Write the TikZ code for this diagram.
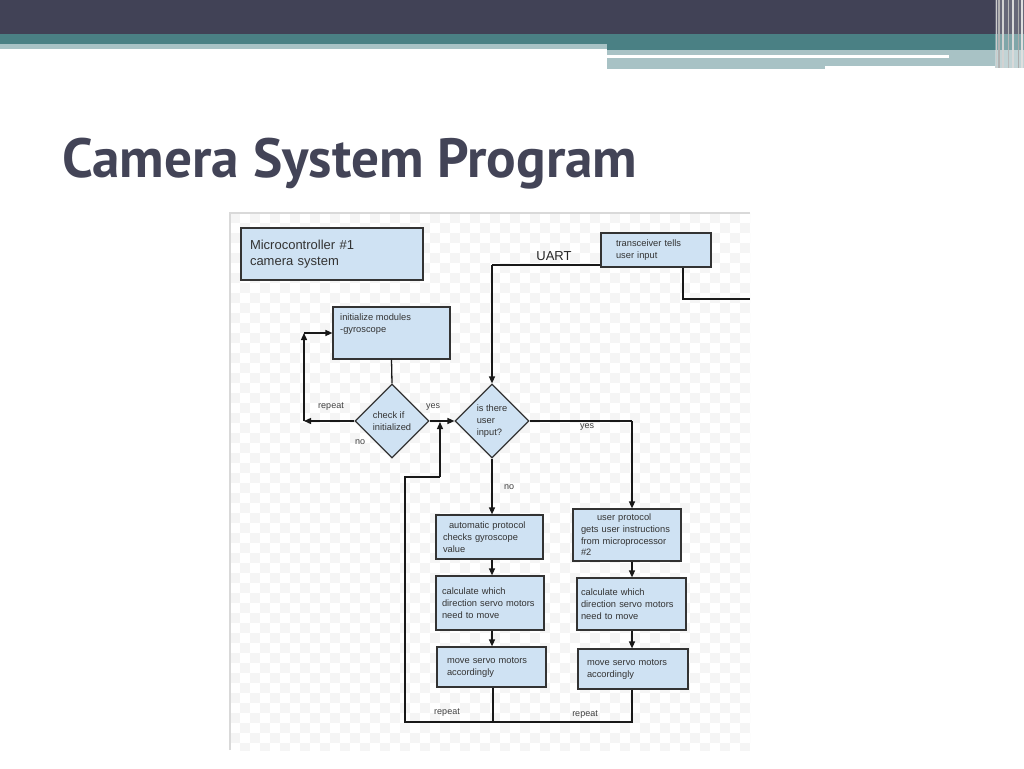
\documentclass[tikz,border=0pt]{standalone}
\usepackage{fontspec}
\setmainfont{Liberation Sans}
\newfontfamily\titlefont{PT Sans}
\usetikzlibrary{shapes.geometric,arrows.meta}
\definecolor{darkband}{HTML}{414256}
\definecolor{tealband}{HTML}{4A8084}
\definecolor{lightband}{HTML}{A8C2C5}
\definecolor{titlecol}{HTML}{434457}
\definecolor{boxfill}{HTML}{CFE2F3}
\definecolor{boxline}{HTML}{333333}
\definecolor{checker}{HTML}{F5F5F5}
\begin{document}
\begin{tikzpicture}[x=1pt,y=-1pt,
  box/.style={draw=boxline,fill=boxfill,line width=1.2pt,align=left,inner ysep=0pt,
    font=\fontsize{9.3}{12}\selectfont,text=black!80},
  dia/.style={diamond,aspect=1,draw=boxline,fill=boxfill,line width=1.2pt,inner sep=0pt,
    minimum width=74pt,minimum height=74pt,align=left,font=\fontsize{9.3}{12}\selectfont,text=black!80},
  lbl/.style={font=\fontsize{9}{11}\selectfont,text=black!75,inner sep=0pt},
  conn/.style={draw=black!90,line width=1.3pt},
  arr/.style={conn,-{Triangle[length=7pt,width=6pt]}}]
\useasboundingbox (0,0) rectangle (1024,768);
\fill[white] (0,0) rectangle (1024,768);
% banner
\fill[darkband] (0,0) rectangle (1024,34);
\fill[tealband] (0,34) rectangle (607,44);
\fill[tealband] (607,34) rectangle (1000,50);
\fill[lightband] (0,44) rectangle (607,49);
\fill[lightband] (607,50) rectangle (1000,55);
\fill[white] (607,55) rectangle (949,58);
\fill[lightband] (949,55) rectangle (1000,58);
\fill[lightband] (607,58) rectangle (825,69);
\fill[lightband] (825,58) rectangle (1000,66);
\fill[darkband!80!white] (995,0) rectangle (1024,34);
\fill[tealband!70!white] (995,34) rectangle (1024,50);
\fill[lightband!70!white] (995,50) rectangle (1024,68);
\foreach \xx/\ww/\cc in {996/1/40,999/1.5/60,1003/2/35,1008/1/55,1013/2/30,1018/1/65,1022/1.5/25}
  \draw[line width=\ww pt,gray!\cc] (\xx,0) -- (\xx,68);
% title
\node[anchor=base west,inner sep=0pt,text=titlecol] (title) at (62,177)
  {\resizebox{575pt}{!}{\titlefont\bfseries Camera System Program}};
% diagram frame with faint checker
\begin{scope}
\clip (230,213) rectangle (750,750);
\foreach \i in {0,...,52}{
  \foreach \j in {0,...,54}{
    \pgfmathtruncatemacro{\cpar}{mod(\i+\j,2)}
    \ifnum\cpar=0 \fill[checker] (230+\i*10,213+\j*10) rectangle ++(10,10);\fi
  }}
\end{scope}
\draw[black!15,line width=1.2pt] (230,750) -- (230,213) -- (750,213);
% nodes
\node[box,minimum width=182pt,minimum height=52pt,inner xsep=9pt,text width=164pt,
  font=\fontsize{13}{16}\selectfont] (mc) at (332,254) {Microcontroller \#1\\camera system};
\node[box,minimum width=110pt,minimum height=34pt,inner xsep=15pt,text width=80pt] (trans) at (656,250)
  {transceiver tells\\user input};
\node[box,minimum width=117pt,minimum height=52pt] (init) at (391.5,333) {};
\node[anchor=north west,align=left,inner sep=0pt,font=\fontsize{9.3}{12}\selectfont,text=black!80]
  (inittxt) at (340,314) {initialize modules\\-gyroscope};
\node[dia] (chk) at (392,421) {check if\\initialized};
\node[dia] (usr) at (492,421) {is there\\user\\input?};
\node[box,minimum width=107pt,minimum height=44pt,inner xsep=7pt,text width=93pt] (auto) at (489.5,537)
  {\hspace*{6pt}automatic protocol\\checks gyroscope\\value};
\node[box,minimum width=108pt,minimum height=54pt,inner xsep=6pt,text width=96pt] (calcA) at (490,603)
  {calculate which\\direction servo motors\\need to move};
\node[box,minimum width=109pt,minimum height=40pt,inner xsep=10pt,text width=89pt] (moveA) at (491.5,667)
  {move servo motors\\accordingly};
\node[box,minimum width=108pt,minimum height=52pt,inner xsep=8pt,text width=92pt,
  font=\fontsize{9.3}{11.6}\selectfont] (up) at (627,535)
  {\hspace*{16pt}user protocol\\gets user instructions\\from microprocessor\\\#2};
\node[box,minimum width=109pt,minimum height=52pt,inner xsep=4pt,text width=101pt] (calcB) at (631.5,604)
  {calculate which\\direction servo motors\\need to move};
\node[box,minimum width=110pt,minimum height=40pt,inner xsep=9pt,text width=92pt] (moveB) at (633,669)
  {move servo motors\\accordingly};
% labels
\node[font=\fontsize{13}{15}\selectfont,text=black!85,inner sep=0pt] (uart) at (554,256) {UART};
\node[lbl] (lrep) at (331,407) {repeat};
\node[lbl] (lno) at (360,442) {no};
\node[lbl] (lyes1) at (433,407) {yes};
\node[lbl] (lyes2) at (587,427) {yes};
\node[lbl] (lno2) at (509,487) {no};
\node[lbl] (lrep2) at (447,713) {repeat};
\node[lbl] (lrep3) at (585,715) {repeat};
% coordinates
\coordinate (U1) at (492,265);
\coordinate (T1) at (683,299);
\coordinate (T2) at (750,299);
\coordinate (L1) at (304,421);
\coordinate (L2) at (304,333);
\coordinate (Y) at (632,421);
\coordinate (B1) at (493,722);
\coordinate (B2) at (632,722);
\coordinate (R1) at (405,722);
\coordinate (R2) at (405,477);
\coordinate (R3) at (440,477);
\coordinate (R4) at (440,422);
% connectors
\draw[conn] (trans.south west |- U1) -- (U1);
\draw[arr] (U1) -- (usr.north);
\draw[conn] (trans.south -| T1) -- (T1) -- (T2);
\draw[conn] (init.south) -- (chk.north);
\draw[arr] (chk.west) -- (L1);
\draw[arr] (L1) -- (L2);
\draw[arr] (L2) -- (init.west);
\draw[arr] (chk.east) -- (usr.west);
\draw[conn] (usr.east) -- (Y);
\draw[arr] (Y) -- (Y |- up.north);
\draw[arr] (usr.south) -- (usr.south |- auto.north);
\draw[arr] (auto.south -| usr.south) -- (calcA.north -| usr.south);
\draw[arr] (calcA.south -| usr.south) -- (moveA.north -| usr.south);
\draw[arr] (up.south -| Y) -- (calcB.north -| Y);
\draw[arr] (calcB.south -| Y) -- (moveB.north -| Y);
\draw[conn] (moveB.south -| B2) -- (B2) -- (B1);
\draw[conn] (moveA.south -| B1) -- (B1) -- (R1) -- (R2) -- (R3);
\draw[arr] (R3) -- (R4);
\end{tikzpicture}
\end{document}
